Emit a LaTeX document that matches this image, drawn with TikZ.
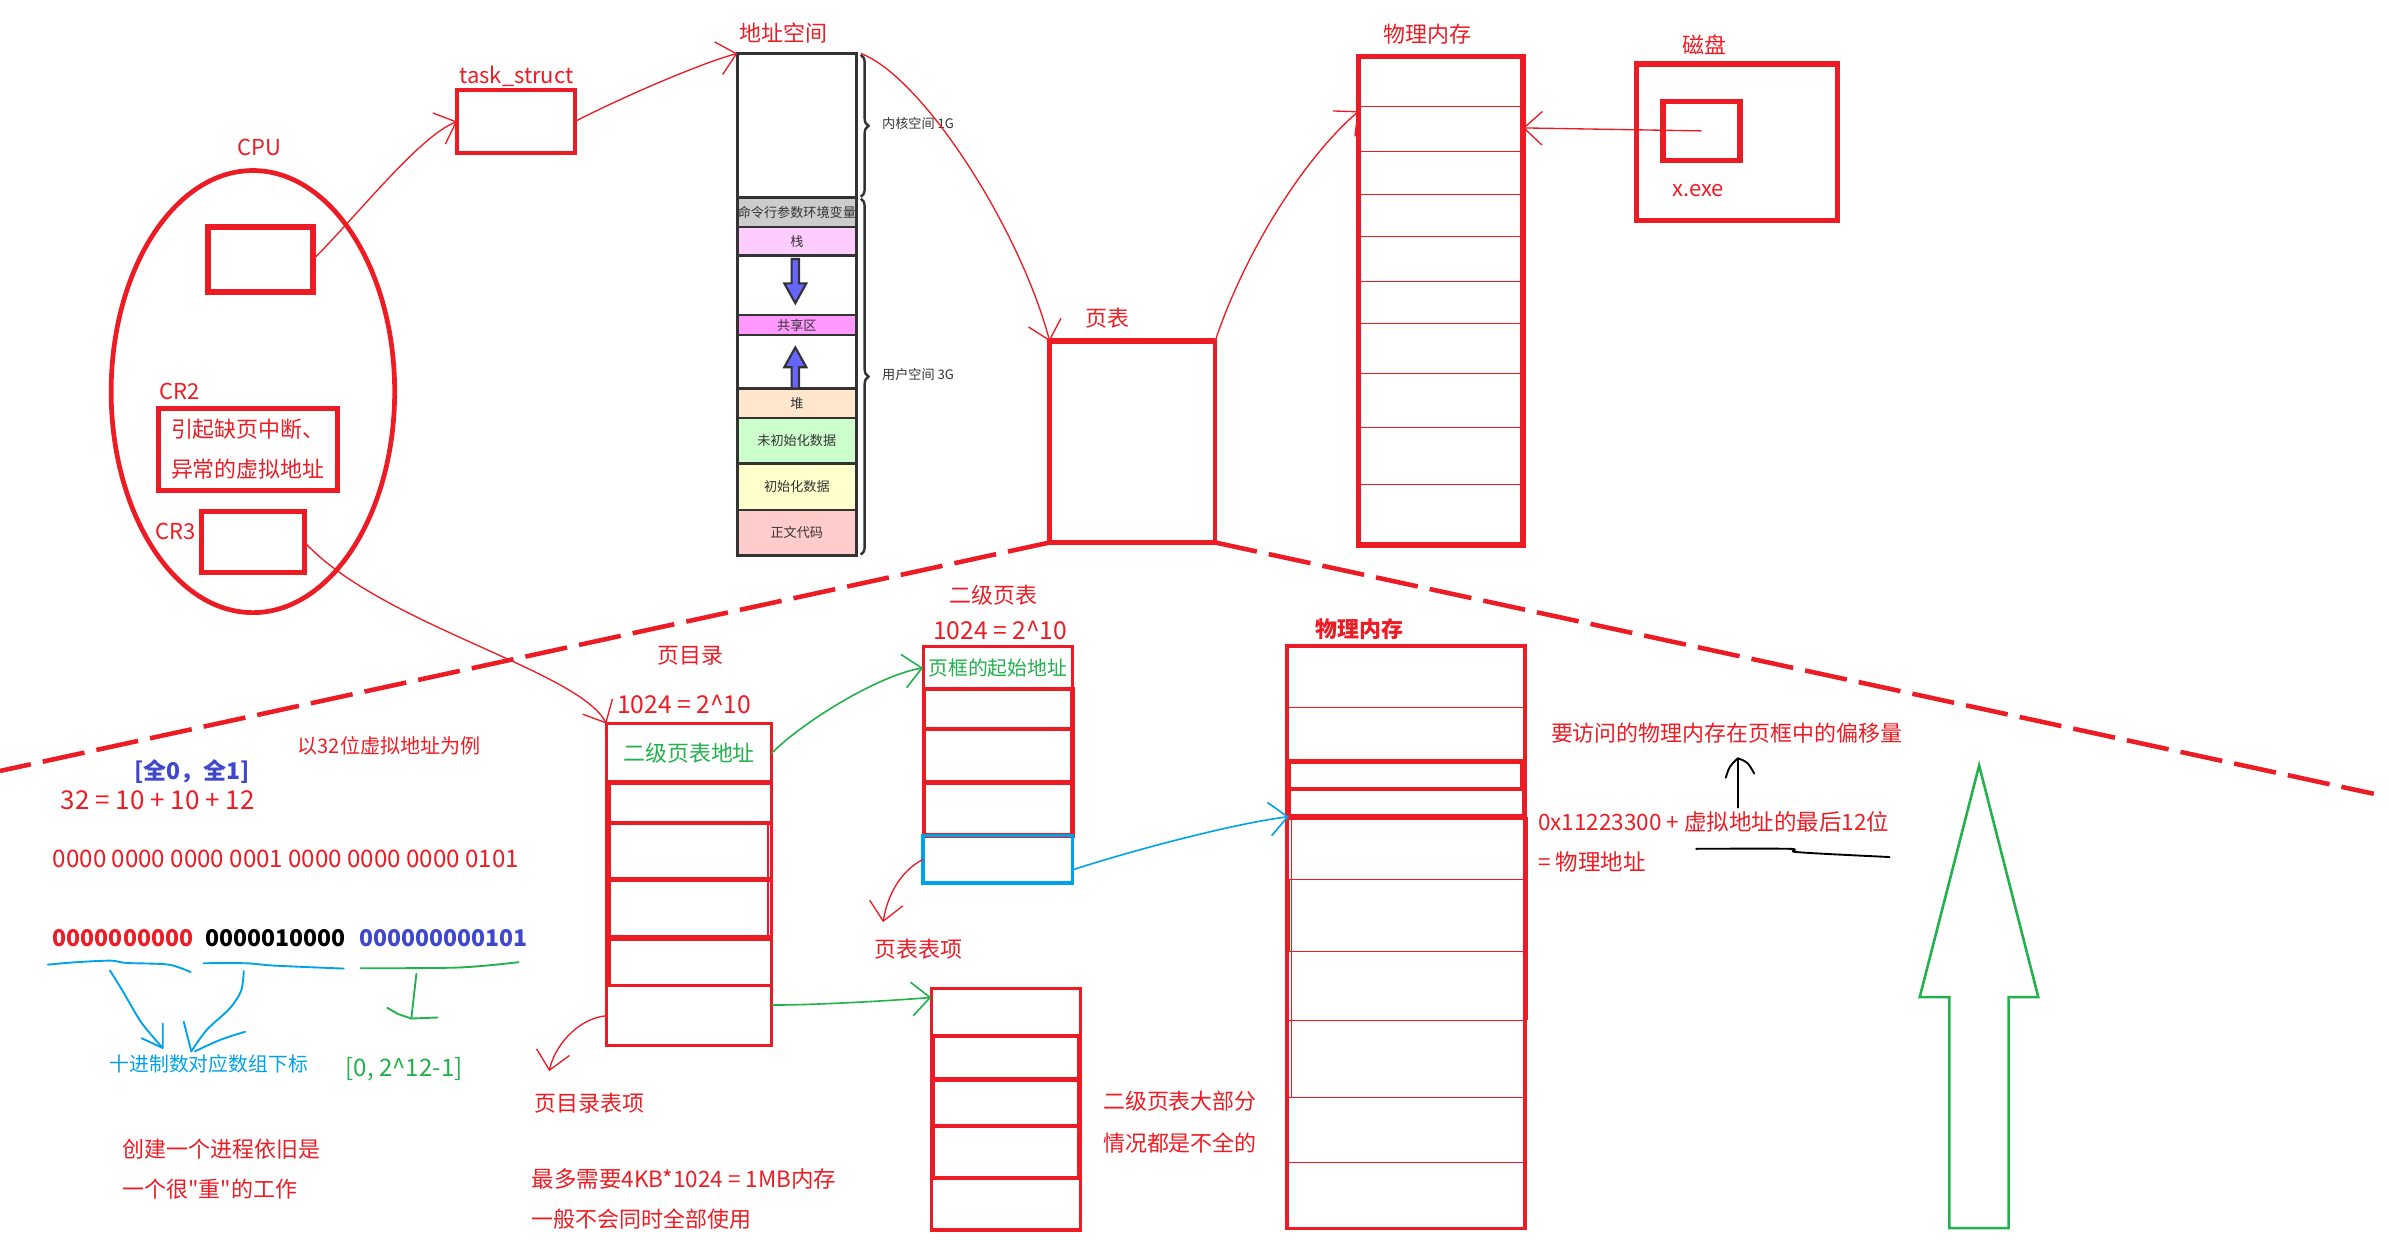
\documentclass[tikz,border=0pt]{standalone}
\usepackage{fontspec}
\setmainfont{Noto Sans CJK SC}
\newfontfamily\quotefont{Noto Sans CJK SC}
\usepackage{xcolor}
\usepackage{tikz}
\usetikzlibrary{positioning, arrows.meta, shapes.geometric, decorations.pathreplacing}

\definecolor{paintred}{HTML}{ED1C24}
\definecolor{paintgreen}{HTML}{22B14C}
\definecolor{paintblue}{HTML}{00A2E8}
\definecolor{bitblue}{HTML}{3F48CC}
\definecolor{darkline}{HTML}{333333}
\definecolor{argvgray}{HTML}{CCCCCC}
\definecolor{stackpink}{HTML}{FFCCFF}
\definecolor{sharedpink}{HTML}{FF99FF}
\definecolor{heapsand}{HTML}{FFE6CC}
\definecolor{bssgreen}{HTML}{CCFFCC}
\definecolor{datayellow}{HTML}{FFFFCC}
\definecolor{coderose}{HTML}{FFCCCC}
\definecolor{growblue}{HTML}{6666FF}

\begin{document}
\begin{tikzpicture}[
    x=0.01cm, y=-0.01cm,
    every node/.style={inner sep=0pt, outer sep=0pt},
    lbl/.style={text=paintred, font=\fontsize{4.1}{5}\selectfont},
    seglbl/.style={text=darkline, font=\fontsize{2.45}{3}\selectfont},
    redbox/.style={draw=paintred, line width=0.93pt},
    segbox/.style={draw=darkline, line width=0.5pt, minimum width=0.78cm},
    conn/.style={draw=paintred, line width=0.25pt, -{Straight Barb[length=1.2mm, width=2.2mm]}},
    gconn/.style={conn, draw=paintgreen, line width=0.3pt},
    bconn/.style={conn, draw=paintblue, line width=0.3pt},
    cut/.style={draw=paintred, line width=0.85pt, dash pattern=on 0.28cm off 0.08cm},
    hand/.style={line width=0.35pt, line cap=round, line join=round},
    grid/.style={draw=paintred, line width=0.19pt},
    growth/.style={fill=growblue, draw=darkline, line width=0.4pt}
]
    \useasboundingbox (0,0) rectangle (1568,817);

    % cpu and its registers
    \node[draw=paintred, line width=0.88pt, ellipse, minimum width=1.86cm, minimum height=2.9cm] (cpu) at (166,257) {};
    \node[lbl] (cpulabel) at (170,97) {CPU};
    \node[redbox, line width=1.1pt, minimum width=0.69cm, minimum height=0.43cm] (cpubox) at (171,170.3) {};
    \node[lbl] (cr2label) at (118,257) {CR2};
    \node[redbox, lbl, minimum width=1.17cm, minimum height=0.54cm, align=left, font=\fontsize{4.1}{7.4}\selectfont] (cr2) at (162.7,294.9) {引起缺页中断、\\异常的虚拟地址};
    \node[lbl] (cr3label) at (115,349) {CR3};
    \node[redbox, minimum width=0.68cm, minimum height=0.40cm] (cr3) at (166,356) {};

    \node[lbl] (tasklabel) at (339,50) {task\_struct};
    \node[redbox, line width=0.75pt, minimum width=0.774cm, minimum height=0.414cm] (task) at (338.7,79.7) {};

    % address space
    \node[lbl] (addrlabel) at (514,22) {地址空间};
    \node[segbox, minimum height=0.944cm] (kern) at (523,82.4) {};
    \node[segbox, seglbl, fill=argvgray, minimum height=0.193cm] (argv) at (523,139.25) {命令行参数环境变量};
    \node[segbox, seglbl, fill=stackpink, minimum height=0.189cm] (stack) at (523,158.35) {栈};
    \node[segbox, minimum height=0.39cm] (gapdown) at (523,187.3) {};
    \node[segbox, seglbl, fill=sharedpink, minimum height=0.131cm] (shared) at (523,213.35) {共享区};
    \node[segbox, minimum height=0.351cm] (gapup) at (523,237.45) {};
    \node[segbox, seglbl, fill=heapsand, minimum height=0.193cm] (heap) at (523,264.65) {堆};
    \node[segbox, seglbl, fill=bssgreen, minimum height=0.30cm] (bss) at (523,289.3) {未初始化数据};
    \node[segbox, seglbl, fill=datayellow, minimum height=0.305cm] (data) at (523,319.55) {初始化数据};
    \node[segbox, seglbl, fill=coderose, minimum height=0.297cm] (code) at (523,349.65) {正文代码};
    \node[draw=darkline, line width=0.55pt, minimum width=0.78cm, minimum height=3.293cm] (addr) at (523,199.85) {};
    \draw[growth] (519.6,170) -- (524.4,170) -- (524.4,186) -- (529.2,186) -- (522,199) -- (514.8,186) -- (519.6,186) -- cycle;
    \draw[growth] (519.6,255) -- (524.4,255) -- (524.4,241) -- (529.2,241) -- (522,228) -- (514.8,241) -- (519.6,241) -- cycle;
    \draw[darkline, line width=0.45pt, decorate, decoration={brace, amplitude=0.05cm}] (565,36) -- (565,129.2);
    \draw[darkline, line width=0.45pt, decorate, decoration={brace, amplitude=0.05cm}] (565,130.4) -- (565,364);
    \node[seglbl, anchor=west] (kernlabel) at (579,81) {内核空间 1G};
    \node[seglbl, anchor=west] (userlabel) at (579,246) {用户空间 3G};

    % page table, memory and disk
    \node[lbl] (ptlabel) at (727,209) {页表};
    \node[redbox, line width=0.86pt, minimum width=1.085cm, minimum height=1.32cm] (pt) at (743.25,290) {};
    \draw[paintred, line width=1.1pt] (pt.north west) -- (pt.north east);

    \node[lbl] (memlabel) at (937,22.7) {物理内存};
    \node[redbox, line width=1pt, minimum width=1.077cm, minimum height=3.205cm] (mem) at (945.65,197.25) {};
    \draw[grid] (892,70) -- (999,70) (892,99.4) -- (999,99.4) (892,127.5) -- (999,127.5)
        (892,155.2) -- (999,155.2) (892,184.7) -- (999,184.7) (892,212.1) -- (999,212.1)
        (892,280.4) -- (999,280.4) (892,317.9) -- (999,317.9);
    \draw[paintred, line width=0.3pt] (892,245.2) -- (999.5,245.2);
    \draw[paintred, line width=0.5pt] (999.8,184.7) -- (999.8,245.2);

    \node[lbl] (disklabel) at (1118.5,29.3) {磁盘};
    \node[redbox, line width=1pt, minimum width=1.32cm, minimum height=1.025cm] (disk) at (1140,93.25) {};
    \node[redbox, line width=1pt, minimum width=0.505cm, minimum height=0.388cm] (exe) at (1116.75,85.9) {};
    \node[lbl] (exelabel) at (1114.8,124.9) {x.exe};

    \draw[conn] (cpubox.east) .. controls +(30,-30) and +(-25,10) .. (task.west);
    \draw[conn] (task.east) .. controls +(35,-18) and +(-20,5) .. (addr.north west);
    \draw[conn] ([xshift=0.03cm]addr.north east) .. controls +(40,15) and +(-20,-75) .. (pt.north west);
    \draw[conn] (pt.north east) .. controls +(20,-60) and +(-35,30) .. ([yshift=-0.36cm]mem.north west);
    \draw[conn] (exe.center) -- ([yshift=-0.47cm]mem.north east);

    % two level paging below the cut
    \coordinate (cutleft) at (0,506);
    \coordinate (cutright) at (1558,521);
    \draw[cut] (pt.south west) -- (cutleft);
    \draw[cut] (pt.south east) -- (cutright);

    \node[lbl, anchor=west, font=\fontsize{3.75}{4.5}\selectfont] (example) at (195.4,489.7) {以32位虚拟地址为例};
    \node[anchor=west, text=bitblue, font=\bfseries\fontsize{4.3}{5}\selectfont] (range) at (88,506.7) {[全0，全1]};
    \node[lbl, anchor=west, font=\fontsize{4.85}{5.5}\selectfont] (split) at (40,525.5) {32 = 10 + 10 + 12};
    \node[lbl, anchor=west, font=\fontsize{4.5}{5.5}\selectfont] (binary) at (34.7,563.5) {0000 0000 0000 0001 0000 0000 0000 0101};
    \node[anchor=west, text=paintred, font=\bfseries\fontsize{4.3}{5}\selectfont] (bitsa) at (34.7,615.6) {0000000000};
    \node[anchor=west, text=black, font=\bfseries\fontsize{4.3}{5}\selectfont] (bitsb) at (134.9,615.6) {0000010000};
    \node[anchor=west, text=bitblue, font=\bfseries\fontsize{4.3}{5}\selectfont] (bitsc) at (236,615.6) {000000000101};

    \draw[hand, paintblue] plot[smooth] coordinates {(31.4,633.1) (50.2,631.5) (72.8,630.5) (82.9,632) (110.5,633.1) (125.1,638)};
    \draw[hand, paintblue] plot[smooth] coordinates {(133.6,632.2) (160.8,632.2) (180.9,633.8) (225.6,635.7)};
    \draw[hand, paintgreen] plot[smooth] coordinates {(236.6,635.5) (301.4,635) (340.4,631.5)};
    \draw[hand, paintblue] plot[smooth] coordinates {(72.1,636.9) (80.4,650.2) (92.9,671.3) (106.8,687.8)};
    \draw[hand, paintblue] (106.8,671.8) -- (106.8,687.8) -- (92.9,681.4);
    \draw[hand, paintblue] plot[smooth] coordinates {(160,637.3) (158.3,650.2) (150.7,662) (135.6,676) (125.6,690.1)};
    \draw[hand, paintblue] (120.6,670.6) -- (125.6,690.1);
    \draw[hand, paintblue] (160.8,677.2) .. controls (145,682) .. (128,690);
    \draw[hand, paintgreen] (273.3,639.2) .. controls (271.5,655) .. (270,668.5);
    \draw[hand, paintgreen] (254.2,661.5) -- (261.2,665.5) -- (270,668.5) -- (287.1,667.8);

    \node[anchor=west, text=paintblue, font=\fontsize{3.7}{4.5}\selectfont] (index) at (72,698.4) {十进制数对应数组下标};
    \node[anchor=west, text=paintgreen, font=\fontsize{4.5}{5}\selectfont] (offset) at (226.8,701.6) {[0, 2\textasciicircum 12-1]};
    \node[lbl, anchor=west] (notea) at (80.4,754.4) {创建一个进程依旧是};
    \node[lbl, anchor=west] (noteb) at (80.4,780.4) {一个很{\quotefont "}重{\quotefont "}的工作};

    % page directory
    \node[lbl] (pdlabel) at (453,430.7) {页目录};
    \node[lbl, anchor=west, font=\fontsize{4.6}{5}\selectfont] (pdsize) at (405,462.3) {1024 = 2\textasciicircum 10};
    \node[draw=paintred, line width=0.54pt, minimum width=1.085cm, minimum height=2.113cm] (pd) at (452.25,580.65) {};
    \node[text=paintgreen, font=\fontsize{4.1}{5}\selectfont, minimum width=1.085cm, minimum height=0.385cm] (pdtop) at (452.25,494.25) {二级页表地址};
    \draw[paintred, line width=0.81pt] (398,513.5) -- (506.5,513.5) (398,540.3) -- (506.5,540.3) (398,577.3) -- (506.5,577.3);
    \draw[paintred, line width=1.1pt] (398,615.7) -- (506.5,615.7);
    \draw[paintred, line width=0.6pt] (398,647) -- (506.5,647);
    \draw[paintred, line width=0.93pt] (399.5,513.5) -- (399.5,647);
    \draw[paintred, line width=0.5pt] (504,540.3) -- (504,615.7);
    \node[minimum width=1.085cm, minimum height=0.393cm] (pdlast) at (452.25,666.65) {};
    \node[lbl, anchor=west] (pdeitem) at (351,723.9) {页目录表项};
    \coordinate (pdeend) at (360.5,703);
    \node[lbl, anchor=west, font=\fontsize{4.2}{5}\selectfont] (maxmem) at (349,774) {最多需要4KB*1024 = 1MB内存};
    \node[lbl, anchor=west] (notall) at (349,800) {一般不会同时全部使用};

    % second level page tables
    \node[lbl] (ptl2label) at (651.8,390.3) {二级页表};
    \node[lbl, anchor=west, font=\fontsize{4.6}{5}\selectfont] (ptl2size) at (612.5,413.6) {1024 = 2\textasciicircum 10};
    \node[draw=paintred, line width=0.54pt, minimum width=0.98cm, minimum height=1.239cm] (ptl2) at (654.9,486.35) {};
    \node[text=paintgreen, font=\fontsize{3.7}{4.5}\selectfont, minimum width=0.98cm, minimum height=0.279cm] (pttop) at (654.9,438.35) {页框的起始地址};
    \draw[paintred, line width=0.81pt] (606.5,452.3) rectangle (703.9,548.3);
    \draw[paintred, line width=0.81pt] (606.5,478.5) -- (703.9,478.5) (606.5,513.5) -- (703.9,513.5);
    \node[draw=paintblue, line width=0.65pt, minimum width=0.98cm, minimum height=0.313cm] (ptentry) at (654.9,563.95) {};
    \node[lbl, anchor=west] (pteitem) at (573.8,623) {页表表项};
    \coordinate (pteend) at (579.6,605.2);

    \node[draw=paintred, line width=0.6pt, minimum width=0.98cm, minimum height=1.586cm] (pt2) at (660.3,728) {};
    \draw[paintred, line width=0.81pt] (612.5,679.8) rectangle (708,773.1);
    \draw[paintred, line width=0.81pt] (612.5,708.5) -- (708,708.5) (612.5,739) -- (708,739);
    \node[lbl, anchor=west] (partiala) at (724,723) {二级页表大部分};
    \node[lbl, anchor=west] (partialb) at (724,750) {情况都是不全的};

    % physical memory below the cut
    \node[lbl, font=\bfseries\fontsize{4.1}{5}\selectfont] (pmemlabel) at (892,413) {物理内存};
    \node[draw=paintred, line width=0.67pt, minimum width=1.561cm, minimum height=3.823cm] (pmem) at (922.75,615.15) {};
    \draw[grid] (845,464.5) -- (1000.5,464.5) (845,498.6) -- (1000.5,498.6) (845,577.4) -- (1000.5,577.4)
        (845,624.6) -- (1000.5,624.6) (845,669.7) -- (1000.5,669.7) (845,720.5) -- (1000.5,720.5)
        (845,762.9) -- (1000.5,762.9);
    \draw[paintred, line width=0.77pt] (846,500.4) rectangle (999,518);
    \node[draw=paintred, line width=0.77pt, minimum width=1.54cm, minimum height=0.18cm] (frame) at (923,527) {};
    \draw[paintred, line width=1.07pt] (frame.south west) -- (frame.south east);
    \draw[grid] (847.5,536) -- (847.5,720.5) (1002.5,536) -- (1002.5,669.7);
    \draw[paintred, line width=0.8pt] (845.5,577.4) -- (845.5,624.6);

    \node[lbl, anchor=west] (offlabel) at (1018,481.5) {要访问的物理内存在页框中的偏移量};
    \node[lbl, anchor=west, font=\fontsize{4.2}{5}\selectfont] (physcalc) at (1009.6,539.6) {0x11223300 + 虚拟地址的最后12位};
    \node[lbl, anchor=west, font=\fontsize{4.2}{5}\selectfont] (physeq) at (1009.6,566) {= 物理地址};
    \draw[hand, black] plot[smooth] coordinates {(1113.3,557.1) (1174.3,557.1) (1177.2,559) (1197.7,560.4) (1240.2,562.5)};
    \coordinate (offup) at (1140.6,497.7);
    \draw[hand, black] (1140.6,530.1) -- (offup);
    \draw[hand, black] (1132.7,510.4) .. controls (1135,503) .. (offup) .. controls (1147,500) .. (1151.4,507.7);

    \draw[paintgreen, line width=0.48pt] (1299,502.4) -- (1337.8,654.4) -- (1318.4,654.4) -- (1318.4,806)
        -- (1279.4,806) -- (1279.4,654.4) -- (1260,654.4) -- cycle;

    % connectors of the lower part
    \draw[conn] (cr3.east) .. controls +(50,54) and +(-18,-35) .. (pd.north west);
    \draw[gconn] (pdtop.east) .. controls +(20,-20) and +(-30,5) .. (pttop.west);
    \draw[gconn] ([yshift=0.07cm]pdlast.east) .. controls +(30,0) and +(-25,2) .. ([yshift=-0.06cm]pt2.north west);
    \draw[bconn] ([yshift=-0.07cm]ptentry.east) .. controls +(30,-10) and +(-40,5) .. (frame.south west);
    \draw[conn] (ptentry.west) .. controls +(-15,8) and +(3,-18) .. (pteend);
    \draw[conn] (pdlast.west) .. controls +(-20,2) and +(3,-15) .. (pdeend);
\end{tikzpicture}
\end{document}
